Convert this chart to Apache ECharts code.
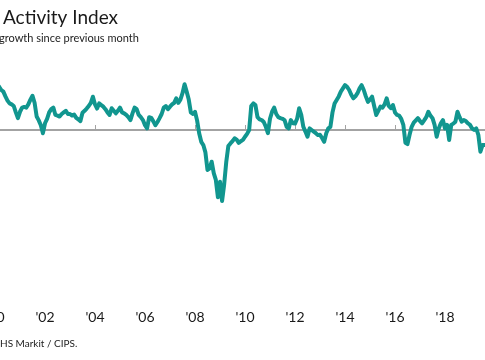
<!DOCTYPE html>
<html><head><meta charset="utf-8">
<script src="https://cdn.jsdelivr.net/npm/echarts@6/dist/echarts.min.js"></script>
<style>html,body{margin:0;padding:0;background:#fff}#c{width:485px;height:360px}</style>
</head><body><div id="c"></div>
<script>
const titleText = 'Activity Index';
const subtitleText = 'growth since previous month';
const sourceText = 'HS Markit / CIPS.';
const startYear = 2000, startMonth = 3;
const values = [
  63.5, 62.5, 62.0, 60.5, 59.2, 58.3, 58.0, 57.5, 55.5, 53.7,
  55.7, 57.0, 57.2, 57.0, 58.0, 59.5, 60.7, 58.5, 54.2, 53.0, 51.5, 49.0,
  52.1, 53.5, 55.5, 56.5, 57.0, 54.7, 54.5, 54.2, 55.0, 55.5, 56.0, 55.0,
  55.0, 54.5, 54.8, 53.8, 53.3, 52.8, 55.4, 56.0, 56.7, 57.5, 58.5, 60.4,
  58.0, 56.7, 58.3, 57.8, 57.3, 56.5, 55.5, 54.7, 56.8, 56.0, 55.2, 56.0,
  57.0, 55.5, 55.2, 54.7, 54.0, 53.1, 55.2, 57.0, 56.5, 54.7, 54.0, 53.1,
  51.5, 50.5, 54.0, 53.8, 52.7, 51.5, 52.5, 53.7, 55.0, 57.0, 57.5, 56.5,
  57.3, 58.0, 58.5, 59.9, 58.5, 59.5, 61.5, 64.3, 62.0, 59.5, 55.5, 55.0,
  55.7, 53.0, 49.0, 46.3, 45.3, 43.0, 37.5, 38.0, 40.1, 36.5, 34.4, 29.0,
  33.8, 27.8, 33.0, 40.0, 45.0, 45.8, 46.5, 47.4, 47.0, 46.0, 46.5, 46.9,
  47.9, 48.8, 50.0, 57.5, 58.3, 57.8, 54.0, 53.3, 53.1, 52.5, 51.0, 49.0,
  53.5, 55.7, 57.0, 55.0, 54.0, 53.7, 53.5, 53.1, 51.0, 50.5, 53.1, 52.1,
  52.0, 53.5, 56.8, 54.7, 51.0, 49.5, 47.9, 50.5, 50.0, 49.5, 49.0, 48.4,
  48.5, 47.5, 46.3, 49.0, 50.5, 51.0, 55.5, 58.3, 59.4, 60.5, 62.0, 63.0,
  64.0, 63.5, 62.5, 61.0, 59.9, 60.5, 61.5, 63.0, 64.0, 62.5, 60.5, 58.8,
  59.5, 60.4, 57.5, 54.7, 56.0, 57.3, 57.0, 58.0, 59.9, 57.5, 56.8, 57.8,
  55.5, 54.7, 54.5, 53.5, 51.6, 46.0, 45.6, 48.5, 51.0, 52.3, 53.0, 53.7,
  52.8, 52.1, 53.0, 54.0, 55.7, 54.5, 53.7, 51.6, 47.9, 50.5, 52.1, 53.1,
  50.5, 51.6, 46.9, 51.6, 52.0, 52.6, 55.7, 54.0, 52.6, 53.1, 52.8, 52.1,
  51.6, 50.5, 50.0, 50.5, 48.5, 43.2, 45.3, 45.3
];
const tickYears = [2000, 2002, 2004, 2006, 2008, 2010, 2012, 2014, 2016, 2018, 2020];
const tickLabels = ["'00", "'02", "'04", "'06", "'08", "'10", "'12", "'14", "'16", "'18", "'20"];
const baseline = 50;

const months = values.map((v, i) => {
  const k = startMonth - 1 + i;
  return (startYear + Math.floor(k / 12)) + '-' + String(k % 12 + 1).padStart(2, '0');
});
const data = months.map((d, i) => {
  const p = d.split('-').map(Number);
  return [p[0] + (p[1] - 1) / 12, values[i]];
});

const yMin = 20, yMax = 70;
const chart = echarts.init(document.getElementById('c'));
chart.setOption({
  animation: false,
  grid: { left: -5, right: -10, top: 66, height: 160, containLabel: false, outerBoundsMode: 'none' },
  xAxis: [
    { type: 'value', min: 2000, max: 2020, interval: 2,
      axisLine: { show: false }, axisTick: { show: false }, splitLine: { show: false },
      axisLabel: { margin: 84, fontFamily: 'Lato', fontSize: 14, color: '#1a1a1a', hideOverlap: false,
        formatter: v => { const j = tickYears.indexOf(Math.round(v)); return j >= 0 ? tickLabels[j] : ''; } } },
    { type: 'value', min: 2000, max: 2020, interval: 2,
      axisLine: { show: true, onZero: true, onZeroAxisIndex: 1, lineStyle: { color: '#a3a3a3', width: 2 } },
      axisTick: { show: true, length: 5, lineStyle: { color: '#a3a3a3', width: 1 } },
      axisLabel: { show: false }, splitLine: { show: false } }
  ],
  yAxis: [
    { type: 'value', min: yMin, max: yMax, show: false, splitLine: { show: false } },
    { type: 'value', min: yMin - baseline, max: yMax - baseline, show: false, splitLine: { show: false } }
  ],
  series: [{
    type: 'line', data: data, xAxisIndex: 0, yAxisIndex: 0,
    showSymbol: false, symbol: 'none', z: 5,
    lineStyle: { color: '#11968f', width: 4, join: 'round', cap: 'round' }
  }],
  graphic: [
    { type: 'text', x: 3, y: 18, style: { text: titleText, font: 'normal 19px Lato', fill: '#1a1a1a', textAlign: 'left', textVerticalAlign: 'middle' } },
    { type: 'text', x: -1, y: 38, style: { text: subtitleText, font: 'normal 11px Lato', fill: '#222', textAlign: 'left', textVerticalAlign: 'middle' } },
    { type: 'text', x: 0, y: 343.5, style: { text: sourceText, font: 'normal 10px Lato', fill: '#222', textAlign: 'left', textVerticalAlign: 'middle' } }
  ]
});
</script></body></html>
